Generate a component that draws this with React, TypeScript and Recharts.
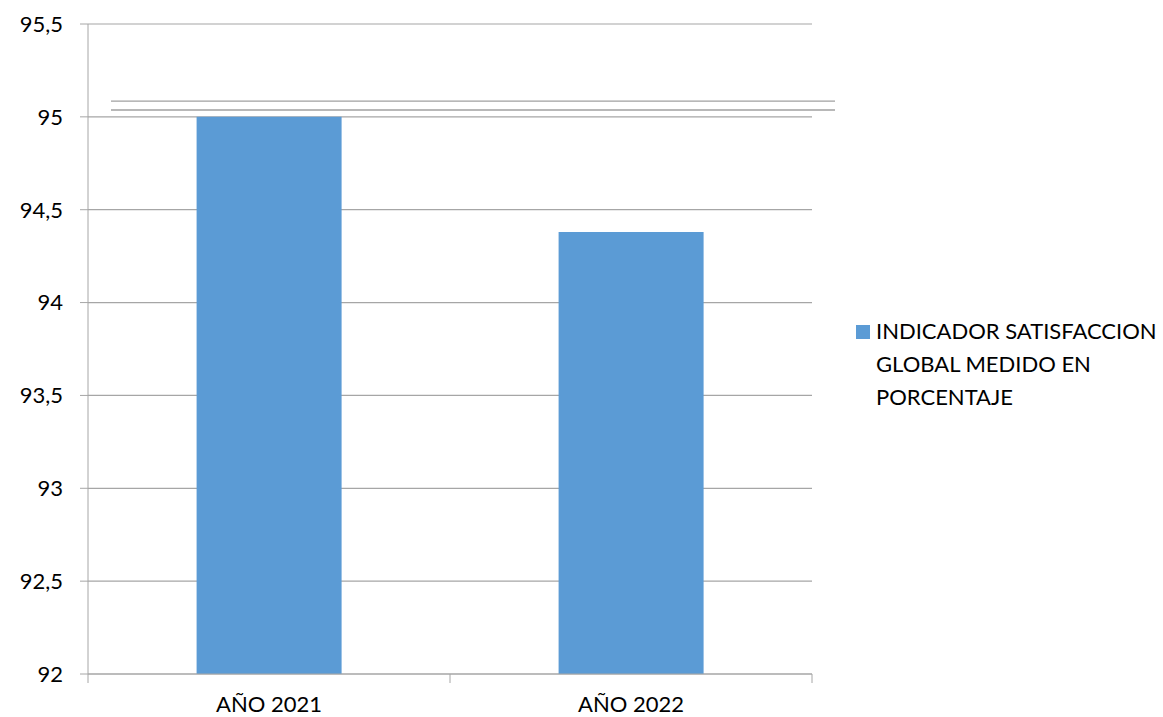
import React from 'react'
import { BarChart, Bar, XAxis, YAxis, CartesianGrid, ReferenceLine } from 'recharts'

const categories = ['AÑO 2021', 'AÑO 2022']
const satisfaccion = [95, 94.38]
const yTicks = [92, 92.5, 93, 93.5, 94, 94.5, 95, 95.5]
const doubleLines = [95.085, 95.037]
const seriesName = 'INDICADOR SATISFACCION GLOBAL MEDIDO EN PORCENTAJE'
const legendLines = ['INDICADOR SATISFACCION', 'GLOBAL MEDIDO EN', 'PORCENTAJE']

const data = categories.map((c, i) => ({ name: c, value: satisfaccion[i] }))

const FONT = 'Lato, "Noto Sans", sans-serif'
const GRID = '#a6a6a6'
const BAR = '#5b9bd5'

// ticks sit between categories, like the original
const XTick = (props: any) => {
  const { x, y, payload, index, visibleTicksCount } = props
  const half = payload?.offset ?? 181
  return (
    <g>
      <line x1={x - half} y1={y - 8} x2={x - half} y2={y + 1} stroke={GRID} />
      {index === visibleTicksCount - 1 && (
        <line x1={x + half} y1={y - 8} x2={x + half} y2={y + 1} stroke={GRID} />
      )}
      <text x={x} y={y + 30} textAnchor="middle" fontFamily={FONT} fontSize={22} fill="#000">
        {payload.value}
      </text>
    </g>
  )
}

const DoubleLine = (props: any) => {
  const { x1, x2, y1 } = props
  return <line x1={x1 + 23} x2={x2 + 23} y1={y1} y2={y1} stroke="#a0a0a0" strokeWidth={1.3} />
}

export default function App() {
  return (
    <div style={{ position: 'absolute', left: 0, top: 0, width: 1163, height: 717, background: '#fff' }}>
      <BarChart
        width={1163}
        height={717}
        data={data}
        margin={{ top: 24, right: 351, bottom: 0, left: 0 }}
        barCategoryGap="30%"
      >
        <CartesianGrid vertical={false} stroke={GRID} strokeWidth={1.2} />
        <XAxis
          dataKey="name"
          height={43}
          tickLine={false}
          axisLine={{ stroke: GRID }}
          tick={<XTick />}
          interval={0}
        />
        <YAxis
          width={88}
          domain={[92, 95.5]}
          ticks={yTicks}
          tickSize={8}
          tickMargin={17}
          tickLine={{ stroke: GRID }}
          axisLine={{ stroke: GRID }}
          tick={{ fill: '#000', fontSize: 22, fontFamily: FONT }}
          tickFormatter={(v: number) => String(v).replace('.', ',')}
          allowDataOverflow
        />
        {doubleLines.map((v) => (
          <ReferenceLine key={v} y={v} ifOverflow="visible" shape={<DoubleLine />} />
        ))}
        <Bar dataKey="value" name={seriesName} fill={BAR} isAnimationActive={false} />
      </BarChart>
      <div
        style={{
          position: 'absolute',
          left: 856,
          top: 314,
          display: 'flex',
          fontFamily: FONT,
          fontSize: 22,
          color: '#000',
          lineHeight: '33px',
        }}
      >
        <div style={{ width: 14, height: 14, background: BAR, marginTop: 11, marginRight: 6 }} />
        <div>
          {legendLines.map((l) => (
            <div key={l} style={{ whiteSpace: 'nowrap' }}>{l}</div>
          ))}
        </div>
      </div>
    </div>
  )
}
